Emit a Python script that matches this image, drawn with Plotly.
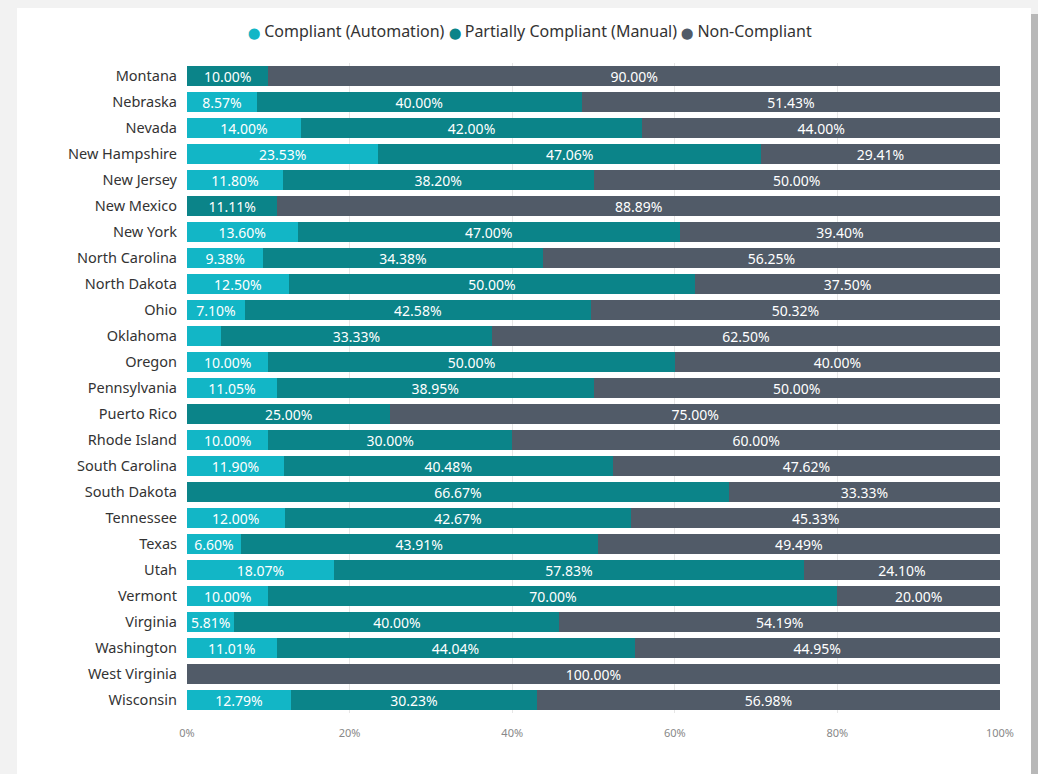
import plotly.graph_objects as go

states = ["Montana", "Nebraska", "Nevada", "New Hampshire", "New Jersey", "New Mexico",
          "New York", "North Carolina", "North Dakota", "Ohio", "Oklahoma", "Oregon",
          "Pennsylvania", "Puerto Rico", "Rhode Island", "South Carolina", "South Dakota",
          "Tennessee", "Texas", "Utah", "Vermont", "Virginia", "Washington",
          "West Virginia", "Wisconsin"]

automation = [0, 8.57, 14.00, 23.53, 11.80, 0, 13.60, 9.38, 12.50, 7.10, 4.17, 10.00,
              11.05, 0, 10.00, 11.90, 0, 12.00, 6.60, 18.07, 10.00, 5.81, 11.01, 0, 12.79]
manual = [10.00, 40.00, 42.00, 47.06, 38.20, 11.11, 47.00, 34.38, 50.00, 42.58, 33.33, 50.00,
          38.95, 25.00, 30.00, 40.48, 66.67, 42.67, 43.91, 57.83, 70.00, 40.00, 44.04, 0, 30.23]
noncompliant = [90.00, 51.43, 44.00, 29.41, 50.00, 88.89, 39.40, 56.25, 37.50, 50.32, 62.50,
                40.00, 50.00, 75.00, 60.00, 47.62, 33.33, 45.33, 49.49, 24.10, 20.00, 54.19,
                44.95, 100.00, 56.98]

series_names = ["Compliant (Automation)", "Partially Compliant (Manual)", "Non-Compliant"]
colors = ["#12B6C6", "#0B8489", "#515B68"]
x_ticks = [0, 20, 40, 60, 80, 100]
x_tick_labels = ["0%", "20%", "40%", "60%", "80%", "100%"]

FONT = "Noto Sans"

def labels(vals):
    return [f"{v:.2f}%" if v >= 5 else "" for v in vals]

fig = go.Figure()
for name, vals, col in zip(series_names, [automation, manual, noncompliant], colors):
    fig.add_trace(go.Bar(
        y=states, x=vals, name=name, orientation="h",
        marker=dict(color=col, line=dict(width=0)),
        text=labels(vals), textposition="inside", insidetextanchor="middle",
        textangle=0, constraintext="none",
        textfont=dict(color="white", size=14, family=FONT),
        showlegend=False,
    ))

legend_html = " ".join(
    f"<span style='color:{c};font-size:11px'>⬤</span> {n}" for n, c in zip(series_names, colors)
)

L, R, T, B = 187, 38, 63, 61
W, H = 1038, 774
pw, ph = W - L - R, H - T - B

def px_x(p):
    return (p - L) / pw

def px_y(p):
    return (H - B - p) / ph

fig.update_layout(
    width=W, height=H,
    margin=dict(l=L, r=R, t=T, b=B),
    barmode="stack", bargap=0.23,
    paper_bgcolor="#F2F2F2", plot_bgcolor="white",
    font=dict(family=FONT, color="#333333"),
    xaxis=dict(range=[0, 100], tickvals=x_ticks, ticktext=x_tick_labels,
               showgrid=True, gridcolor="#E6E6E6", gridwidth=1, zeroline=False,
               tickfont=dict(size=11, color="#888888", family=FONT),
               ticks="", ticklabelstandoff=12, fixedrange=True),
    yaxis=dict(autorange="reversed", tickfont=dict(size=14.5, color="#333333", family=FONT),
               ticks="", ticklabelstandoff=9, showgrid=False),
    shapes=[
        dict(type="rect", xref="paper", yref="paper", layer="below",
             x0=px_x(17), x1=px_x(1031), y0=px_y(774), y1=px_y(8),
             fillcolor="white", line=dict(width=0)),
        dict(type="rect", xref="paper", yref="paper", layer="below",
             x0=px_x(1031), x1=px_x(1038), y0=px_y(774), y1=px_y(14),
             fillcolor="#B8B8B8", line=dict(width=0)),
    ],
    annotations=[dict(text=legend_html, xref="paper", yref="paper",
                      x=px_x(530), y=px_y(31), xanchor="center", yanchor="middle",
                      showarrow=False, font=dict(size=16, color="#333333", family=FONT))],
)

fig.write_html("out.html")
